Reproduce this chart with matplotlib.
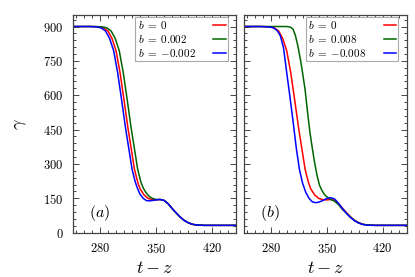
import matplotlib
matplotlib.use("Agg")
import matplotlib.pyplot as plt
from matplotlib.ticker import MultipleLocator, FuncFormatter

plt.rcParams['mathtext.fontset'] = 'cm'
plt.rcParams['font.family'] = ['DejaVu Serif']

# b = 0 (same in both panels)
t_r = [246, 270, 280, 285, 290, 295, 300, 305, 310, 315, 320, 323, 327, 330, 335, 340, 345, 350,
       355, 360, 365, 370, 375, 380, 385, 390, 395, 400, 410, 450]
g_r = [900, 900, 898, 893, 880, 848, 795, 700, 580, 455, 345, 278, 222, 192, 165, 150, 144, 143,
       145, 141, 127, 106, 87, 69, 54, 44, 37, 34, 32, 32]

# panel (a): b = 0.002 (green) and b = -0.002 (blue)
t_ga = [246, 274, 284, 289, 294, 299, 304, 309, 314, 319, 324, 327, 331, 334, 338, 342, 346, 350,
        355, 360, 365, 370, 375, 380, 385, 390, 395, 400, 410, 450]
g_ga = [900, 900, 898, 893, 880, 848, 795, 700, 580, 455, 345, 278, 222, 195, 172, 157, 149, 145,
        145, 141, 127, 106, 87, 69, 54, 44, 37, 34, 32, 32]
t_ba = [246, 267, 277, 282, 287, 292, 297, 302, 307, 312, 317, 320, 324, 327, 330, 334, 338, 342,
        346, 350, 355, 360, 365, 370, 375, 380, 385, 390, 395, 400, 410, 450]
g_ba = [900, 900, 898, 893, 880, 848, 795, 700, 580, 455, 345, 278, 222, 192, 168, 150, 140, 139,
        141, 143, 145, 141, 127, 106, 87, 69, 54, 44, 37, 34, 32, 32]

# panel (b): b = 0.008 (green) and b = -0.008 (blue)
t_gb = [246, 300, 305, 308, 311, 314, 317, 320, 323, 326, 329, 332, 335, 338, 341, 344, 347, 350,
        355, 360, 365, 370, 375, 380, 385, 390, 395, 400, 410, 450]
g_gb = [900, 900, 897, 888, 860, 815, 760, 695, 625, 530, 440, 370, 305, 250, 208, 185, 168, 157,
        145, 137, 122, 101, 84, 67, 53, 43, 37, 34, 32, 32]
t_bb = [246, 268, 278, 283, 288, 292, 296, 300, 304, 308, 312, 316, 320, 324, 328, 332, 336, 340,
        345, 350, 355, 360, 365, 370, 375, 380, 385, 390, 395, 400, 410, 450]
g_bb = [900, 900, 898, 895, 883, 860, 808, 700, 595, 485, 370, 275, 215, 175, 150, 135, 131, 133,
        140, 149, 153, 147, 128, 104, 84, 66, 52, 42, 36, 33, 32, 32]

labels_a = [r'$b\;=\;0$', r'$b\;=\;0.002$', r'$b\;=\;{-0.002}$']
labels_b = [r'$b\;=\;0$', r'$b\;=\;0.008$', r'$b\;=\;{-0.008}$']
panel_tags = [r'$(a)$', r'$(b)$']
colors = ['#ff0000', '#006400', '#0000ff']

fig = plt.figure(figsize=(4.15, 2.77), dpi=100)
ax1 = fig.add_axes([0.1766, 0.160, 0.3921, 0.7856])
ax2 = fig.add_axes([0.5880, 0.160, 0.3916, 0.7856])

fmt = FuncFormatter(lambda v, p: r'$%d$' % int(round(v)))
spine_col = '#444444'

series = [
    (ax1, [(t_r, g_r), (t_ga, g_ga), (t_ba, g_ba)], labels_a, panel_tags[0]),
    (ax2, [(t_r, g_r), (t_gb, g_gb), (t_bb, g_bb)], labels_b, panel_tags[1]),
]

for ax, data, labels, tag in series:
    for (t, g), c, lab in zip(data, colors, labels):
        ax.plot(t, g, color=c, lw=1.1, label=lab)
    ax.set_xlim(246.6, 450)
    ax.set_ylim(0, 950)
    ax.xaxis.set_major_locator(MultipleLocator(70))
    ax.xaxis.set_minor_locator(MultipleLocator(10))
    ax.yaxis.set_major_locator(MultipleLocator(150))
    ax.yaxis.set_minor_locator(MultipleLocator(30))
    ax.xaxis.set_major_formatter(fmt)
    ax.yaxis.set_major_formatter(fmt)
    ax.tick_params(which='both', direction='in', top=True, right=True,
                   color=spine_col, width=0.7)
    ax.tick_params(which='major', length=4, labelsize=9, pad=7)
    ax.tick_params(which='minor', length=2)
    for s in ax.spines.values():
        s.set_color(spine_col)
        s.set_linewidth(0.9)
    ax.set_xlabel(r'$t-z$', fontsize=13, labelpad=2)
    ax.text(0.16, 0.09, tag, transform=ax.transAxes, fontsize=11.5,
            ha='center', va='center')
    leg = ax.legend(loc='upper right', bbox_to_anchor=(0.95, 0.993), borderaxespad=0,
                    markerfirst=False, fancybox=False, framealpha=1, fontsize=8,
                    handlelength=1.1, handletextpad=1.0, labelspacing=0.2,
                    borderpad=0.2)
    leg.get_frame().set_edgecolor('#aaaaaa')
    leg.get_frame().set_linewidth(0.8)
    # left-align the labels while keeping the line samples at the right edge
    for col in leg._legend_handle_box.get_children():
        col.align = 'left'
        for row in col.get_children():
            row.mode = 'expand'
            row.width = 88

ax2.tick_params(labelleft=False)
ax1.set_ylabel(r'$\gamma$', fontsize=13, labelpad=10)

fig.savefig('out.png', dpi=100)
